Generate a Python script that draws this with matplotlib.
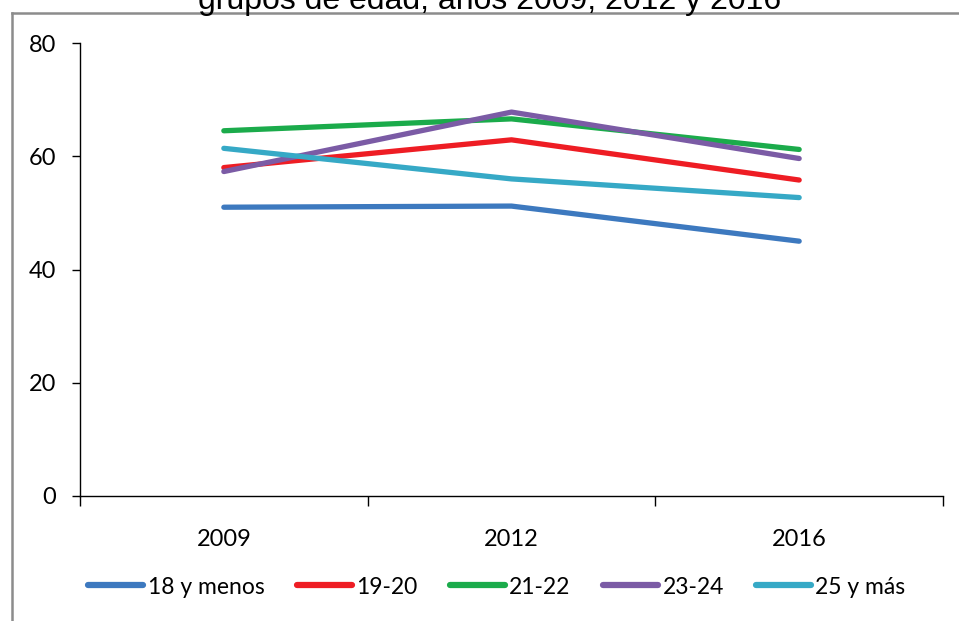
"""Line chart: percentages by age group, 2009 / 2012 / 2016."""

import matplotlib

matplotlib.use("Agg")

import matplotlib.pyplot as plt
from matplotlib.lines import Line2D

years = ["2009", "2012", "2016"]
series_names = ["18 y menos", "19-20", "21-22", "23-24", "25 y más"]
menos18 = [51.0, 51.2, 45.0]
g19_20 = [58.0, 62.9, 55.8]
g21_22 = [64.5, 66.6, 61.2]
g23_24 = [57.3, 67.8, 59.6]
mas25 = [61.4, 56.0, 52.7]
series_values = [menos18, g19_20, g21_22, g23_24, mas25]
colors = ["#3D79BF", "#EE1D24", "#1BAB4B", "#7B5BA5", "#36A9C6"]

plt.rcParams["font.family"] = ["Lato", "DejaVu Sans"]

fig = plt.figure(figsize=(9.59, 6.21), dpi=100)
ax = fig.add_axes([80 / 959, 1 - 496 / 621, 863 / 959, 453 / 621])

x = range(len(years))
for name, vals, c in zip(series_names, series_values, colors):
    ax.plot(x, vals, color=c, linewidth=3.8, label=name, solid_capstyle="round")

ax.set_xlim(-0.5, len(years) - 0.5)
ax.set_ylim(0, 80)
ax.set_yticks([0, 20, 40, 60, 80])
ax.tick_params(axis="y", labelsize=17, length=6, width=1, pad=11)

# category boundaries as major ticks, labels on minor ticks
ax.set_xticks([i - 0.5 for i in range(len(years) + 1)])
ax.set_xticklabels([])
ax.set_xticks(list(x), years, minor=True)
ax.tick_params(axis="x", which="major", length=7, width=1)
ax.tick_params(axis="x", which="minor", length=0, labelsize=17, pad=24)

for side in ("top", "right"):
    ax.spines[side].set_visible(False)
ax.spines["left"].set_linewidth(1)
ax.spines["bottom"].set_linewidth(1)

leg = fig.legend(
    loc="center",
    bbox_to_anchor=(497 / 959, 1 - 587 / 621),
    ncol=5,
    frameon=False,
    fontsize=16.5,
    handlelength=2.4,
    handletextpad=0.2,
    columnspacing=1.4,
)
for h in leg.get_lines():
    h.set_linewidth(4.5)

# title partly cut at the top of the picture
fig.text(490 / 959, 1 - 9.5 / 621, "grupos de edad, años 2009, 2012 y 2016",
         ha="center", va="baseline", fontsize=23, family="Liberation Sans")

# grey outer frame (left and top edges visible)
fig.add_artist(Line2D([11.5 / 959, 11.5 / 959], [0, 1 - 13 / 621],
                      transform=fig.transFigure, color="#8c8c8c", linewidth=1.8))
fig.add_artist(Line2D([11.5 / 959, 1], [1 - 13 / 621, 1 - 13 / 621],
                      transform=fig.transFigure, color="#8c8c8c", linewidth=1.8))

fig.savefig("out.png", dpi=100)
plt.close(fig)
